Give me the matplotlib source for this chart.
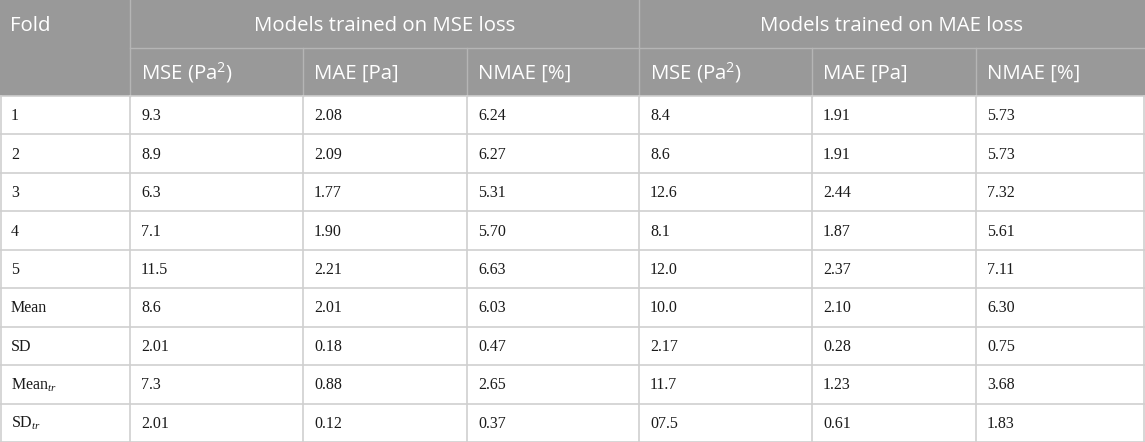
import matplotlib.pyplot as plt
import matplotlib.patches as mpatches

plt.rcParams['mathtext.fontset'] = 'custom'
plt.rcParams['mathtext.rm'] = 'Open Sans'
plt.rcParams['mathtext.it'] = 'Liberation Serif:italic'

# table contents
group_titles = ['Models trained on MSE loss', 'Models trained on MAE loss']
sub_headers = ['MSE (Pa$^{2}$)', 'MAE [Pa]', 'NMAE [%]']
fold_labels = ['1', '2', '3', '4', '5', 'Mean', 'SD', 'Mean$_{tr}$', 'SD$_{tr}$']

mse_loss_mse = ['9.3', '8.9', '6.3', '7.1', '11.5', '8.6', '2.01', '7.3', '2.01']
mse_loss_mae = ['2.08', '2.09', '1.77', '1.90', '2.21', '2.01', '0.18', '0.88', '0.12']
mse_loss_nmae = ['6.24', '6.27', '5.31', '5.70', '6.63', '6.03', '0.47', '2.65', '0.37']
mae_loss_mse = ['8.4', '8.6', '12.6', '8.1', '12.0', '10.0', '2.17', '11.7', '07.5']
mae_loss_mae = ['1.91', '1.91', '2.44', '1.87', '2.37', '2.10', '0.28', '1.23', '0.61']
mae_loss_nmae = ['5.73', '5.73', '7.32', '5.61', '7.11', '6.30', '0.75', '3.68', '1.83']

columns = [fold_labels, mse_loss_mse, mse_loss_mae, mse_loss_nmae,
           mae_loss_mse, mae_loss_mae, mae_loss_nmae]

# layout in pixels
col_edges = [0, 130, 303, 467, 639, 812, 976, 1145]
head1_h = 47.5
head2_h = 48.5
row_h = (442 - head1_h - head2_h) / len(fold_labels)
pad = 11

header_bg = '#999999'
header_line = '#b5b5b5'
grid_line = '#cfcfcf'

fig = plt.figure(figsize=(11.45, 4.42), dpi=100)
ax = fig.add_axes([0, 0, 1, 1])
ax.set_xlim(0, 1145)
ax.set_ylim(442, 0)
ax.axis('off')

# header background
ax.add_patch(mpatches.Rectangle((0, 0), 1145, head1_h + head2_h,
                                facecolor=header_bg, edgecolor='none'))

# header lines
ax.plot([col_edges[1], 1145], [head1_h, head1_h], color=header_line, lw=1)
for x in [col_edges[1], col_edges[4]]:
    ax.plot([x, x], [0, head1_h + head2_h], color=header_line, lw=1)
for x in [col_edges[2], col_edges[3], col_edges[5], col_edges[6]]:
    ax.plot([x, x], [head1_h, head1_h + head2_h], color=header_line, lw=1)

hfont = dict(family='Open Sans', fontsize=14.7, color='white', va='center')
y1 = head1_h / 2 + 2
y2 = head1_h + head2_h / 2 + 1.5
ax.text(col_edges[0] + 10, y1, 'Fold', ha='left', **hfont)
ax.text((col_edges[1] + col_edges[4]) / 2, y1, group_titles[0],
        ha='center', **hfont)
ax.text((col_edges[4] + col_edges[7]) / 2, y1, group_titles[1],
        ha='center', **hfont)
for i in range(6):
    ax.text(col_edges[i + 1] + pad, y2, sub_headers[i % 3],
            ha='left', **hfont)

# body
top = head1_h + head2_h
n = len(fold_labels)
for r in range(n + 1):
    y = top + r * row_h
    ax.plot([0, 1145], [y, y], color=grid_line, lw=1.2)
for x in col_edges:
    xx = min(max(x, 0.6), 1144.4)
    ax.plot([xx, xx], [top, 442 - 0.6], color=grid_line, lw=1.2)

for c, col in enumerate(columns):
    for r, val in enumerate(col):
        ax.text(col_edges[c] + pad, top + (r + 0.5) * row_h + 1, val,
                family='Liberation Serif', fontsize=11.5, color='#1a1a1a',
                ha='left', va='center')

fig.savefig('out.png', dpi=100)
